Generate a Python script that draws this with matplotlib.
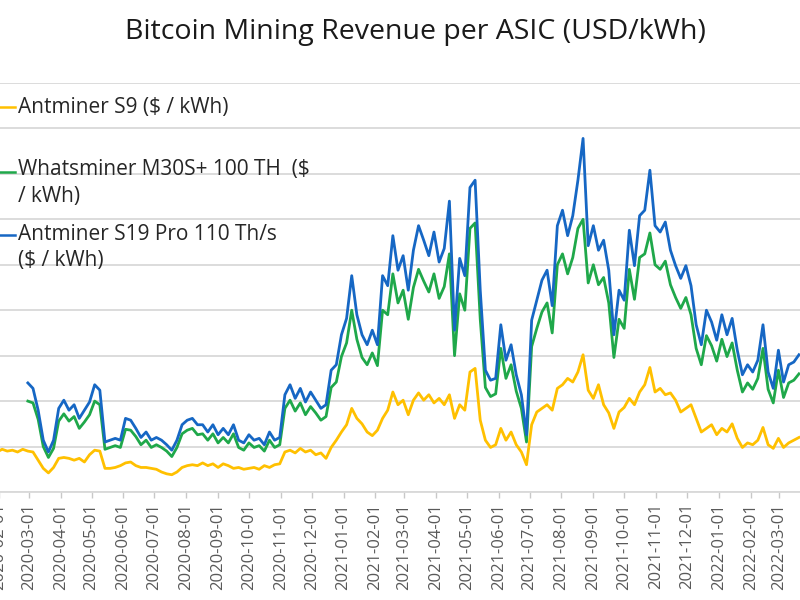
import matplotlib
matplotlib.use("Agg")
import matplotlib.pyplot as plt
import matplotlib.dates as mdates
import pandas as pd
from matplotlib.lines import Line2D

plt.rcParams['font.family'] = ['Open Sans', 'DejaVu Sans']

# revenue per ASIC in USD/kWh, one value every 5 days
s9_usd_kwh = [
    0.046, 0.044, 0.047, 0.045, 0.046, 0.044, 0.047,
    0.045, 0.044, 0.035, 0.026,
    0.021, 0.027, 0.037, 0.038, 0.037, 0.035, 0.037, 0.033, 0.041, 0.046,
    0.045, 0.026, 0.026, 0.027, 0.029, 0.032, 0.033, 0.029, 0.027, 0.027,
    0.026, 0.025, 0.022, 0.020, 0.019, 0.022, 0.027, 0.029, 0.030, 0.029,
    0.032, 0.029, 0.031, 0.027, 0.031, 0.029, 0.026, 0.027, 0.025, 0.026,
    0.027, 0.025, 0.029, 0.027, 0.030, 0.031, 0.044, 0.046, 0.043, 0.048,
    0.044, 0.046, 0.041, 0.043, 0.037, 0.049, 0.057, 0.066, 0.074, 0.092,
    0.081, 0.075, 0.066, 0.062, 0.068, 0.081, 0.090, 0.110, 0.096, 0.101,
    0.085, 0.101, 0.109, 0.101, 0.107, 0.098, 0.103, 0.096, 0.107, 0.081,
    0.096, 0.090, 0.132, 0.136, 0.079, 0.057, 0.049, 0.052, 0.070, 0.057,
    0.066, 0.052, 0.044, 0.030, 0.074, 0.088, 0.092, 0.096, 0.090, 0.114,
    0.118, 0.125, 0.121, 0.132, 0.151, 0.112, 0.103, 0.118, 0.096, 0.087,
    0.070, 0.088, 0.093, 0.103, 0.096, 0.110, 0.118, 0.137, 0.110, 0.114,
    0.107, 0.109, 0.101, 0.088, 0.092, 0.096, 0.081, 0.066, 0.070, 0.074,
    0.063, 0.070, 0.066, 0.075, 0.059, 0.049, 0.054, 0.052, 0.057, 0.071,
    0.052, 0.048, 0.059, 0.049, 0.054, 0.057, 0.060,
]

m30s_usd_kwh = [
    0.100, 0.098, 0.080, 0.050,
    0.038, 0.048, 0.078, 0.086, 0.078, 0.083, 0.070, 0.077, 0.085, 0.100,
    0.096, 0.047, 0.049, 0.051, 0.049, 0.069, 0.068, 0.061, 0.052, 0.057,
    0.049, 0.052, 0.049, 0.045, 0.039, 0.049, 0.064, 0.068, 0.070, 0.063,
    0.064, 0.057, 0.064, 0.054, 0.060, 0.054, 0.064, 0.049, 0.046, 0.054,
    0.049, 0.051, 0.045, 0.057, 0.049, 0.052, 0.092, 0.101, 0.089, 0.098,
    0.085, 0.094, 0.087, 0.079, 0.083, 0.115, 0.121, 0.149, 0.164, 0.200,
    0.168, 0.148, 0.140, 0.153, 0.139, 0.200, 0.195, 0.240, 0.208, 0.222,
    0.190, 0.225, 0.245, 0.232, 0.220, 0.240, 0.213, 0.226, 0.262, 0.150,
    0.218, 0.200, 0.290, 0.296, 0.190, 0.115, 0.105, 0.108, 0.158, 0.125,
    0.140, 0.111, 0.092, 0.055, 0.160, 0.180, 0.198, 0.208, 0.175, 0.250,
    0.262, 0.240, 0.258, 0.290, 0.300, 0.230, 0.250, 0.228, 0.236, 0.208,
    0.148, 0.190, 0.180, 0.245, 0.212, 0.258, 0.262, 0.285, 0.250, 0.245,
    0.254, 0.228, 0.214, 0.202, 0.214, 0.195, 0.158, 0.140, 0.172, 0.161,
    0.144, 0.168, 0.149, 0.164, 0.134, 0.110, 0.120, 0.113, 0.125, 0.158,
    0.113, 0.098, 0.134, 0.104, 0.120, 0.123, 0.130,
]

s19pro_usd_kwh = [
    0.120, 0.114, 0.090, 0.057,
    0.044, 0.057, 0.092, 0.101, 0.090, 0.096, 0.081, 0.090, 0.099, 0.118,
    0.112, 0.055, 0.057, 0.059, 0.057, 0.081, 0.079, 0.070, 0.060, 0.066,
    0.057, 0.060, 0.057, 0.052, 0.046, 0.057, 0.074, 0.079, 0.081, 0.074,
    0.074, 0.066, 0.074, 0.063, 0.070, 0.063, 0.074, 0.057, 0.054, 0.063,
    0.057, 0.059, 0.052, 0.066, 0.057, 0.060, 0.107, 0.118, 0.103, 0.114,
    0.099, 0.110, 0.101, 0.092, 0.096, 0.134, 0.140, 0.173, 0.191, 0.238,
    0.195, 0.173, 0.162, 0.178, 0.162, 0.238, 0.227, 0.282, 0.244, 0.260,
    0.222, 0.266, 0.293, 0.277, 0.260, 0.286, 0.253, 0.268, 0.320, 0.178,
    0.257, 0.238, 0.335, 0.343, 0.222, 0.134, 0.123, 0.125, 0.184, 0.145,
    0.162, 0.129, 0.107, 0.063, 0.189, 0.211, 0.233, 0.244, 0.205, 0.293,
    0.310, 0.282, 0.304, 0.343, 0.389, 0.271, 0.293, 0.266, 0.277, 0.244,
    0.173, 0.222, 0.211, 0.288, 0.249, 0.304, 0.310, 0.354, 0.293, 0.286,
    0.297, 0.266, 0.249, 0.235, 0.249, 0.227, 0.184, 0.162, 0.200, 0.187,
    0.167, 0.195, 0.173, 0.191, 0.156, 0.129, 0.140, 0.132, 0.145, 0.184,
    0.132, 0.114, 0.156, 0.121, 0.140, 0.143, 0.151,
]

dates = pd.date_range("2020-01-25", periods=len(s9_usd_kwh), freq="5D")
# the two newer machines only start at the end of February 2020
new_dates = dates[len(dates) - len(s19pro_usd_kwh):]

labels = [
    "Antminer S9 ($ / kWh)",
    "Whatsminer M30S+ 100 TH  ($\n/ kWh)",
    "Antminer S19 Pro 110 Th/s\n($ / kWh)",
]
colors = ["#FFC000", "#1FA84A", "#1667C4"]
y_ticks = [0.0, 0.05, 0.10, 0.15, 0.20, 0.25, 0.30, 0.35, 0.40, 0.45]

fig = plt.figure(figsize=(8, 6), dpi=100)
# the source image is a crop, so the axes run past the left edge
ax = fig.add_axes([-0.05, 0.18, 1.05, 0.6817])

ax.plot(dates, s9_usd_kwh, color=colors[0], lw=2.0)
ax.plot(new_dates, m30s_usd_kwh, color=colors[1], lw=2.0)
ax.plot(new_dates, s19pro_usd_kwh, color=colors[2], lw=2.0)

ax.set_xlim(pd.Timestamp("2019-12-25"), pd.Timestamp("2022-03-21"))
ax.set_ylim(0, 0.45)
ax.set_yticks(y_ticks)
ax.yaxis.grid(True, color="#d9d9d9", lw=1.3)
ax.set_axisbelow(True)
ax.tick_params(axis="y", left=False, labelleft=False)

for side in ["left", "right", "top"]:
    ax.spines[side].set_visible(False)
ax.spines["bottom"].set_color("#d9d9d9")
ax.spines["bottom"].set_linewidth(1.3)

ax.xaxis.set_major_locator(mdates.MonthLocator())
ax.xaxis.set_major_formatter(mdates.DateFormatter("%Y-%m-%d"))
ax.tick_params(axis="x", length=4, width=1, color="#c8c8c8",
               labelsize=12, labelcolor="#595959", labelrotation=90, pad=4)

fig.text(0.519, 1 - 39 / 600, "Bitcoin Mining Revenue per ASIC (USD/kWh)",
         ha="center", va="baseline", fontsize=20.5, color="#1a1a1a")

# legend drawn by hand: handle sits on the first line of each label,
# text_y is the baseline of the label's last line
handle_y = [106.7, 171.5, 235.0]
text_y = [112.7, 202.0, 266.5]
for lab, col, hy, ty in zip(labels, colors, handle_y, text_y):
    fig.add_artist(Line2D([-0.01, 15 / 800], [1 - hy / 600, 1 - hy / 600],
                          color=col, lw=1.8, transform=fig.transFigure))
    fig.text(18 / 800, 1 - ty / 600, lab, ha="left", va="baseline",
             fontsize=15, color="#262626", linespacing=1.35)

fig.savefig("out.png", dpi=100)
